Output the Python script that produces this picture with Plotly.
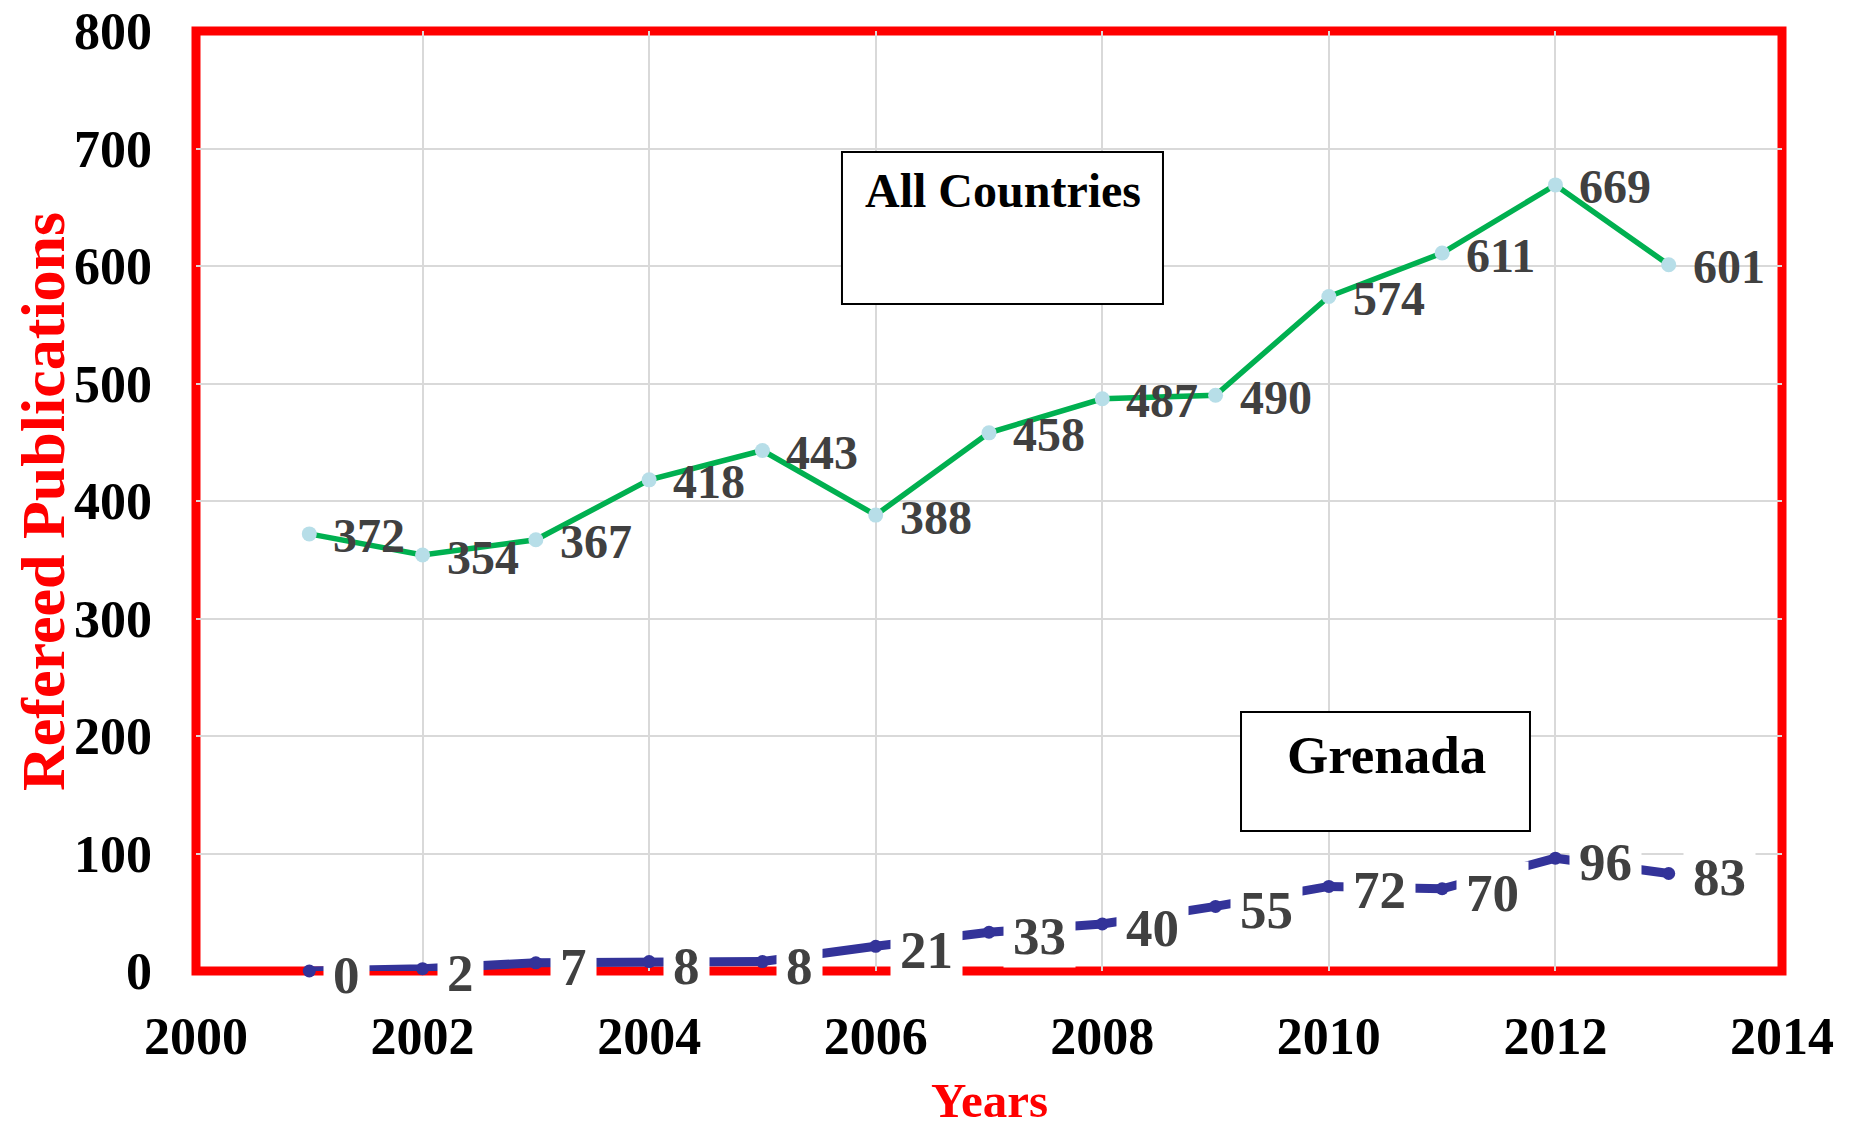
import plotly.graph_objects as go

years = [2001, 2002, 2003, 2004, 2005, 2006, 2007, 2008, 2009, 2010, 2011, 2012, 2013]
all_countries = [372, 354, 367, 418, 443, 388, 458, 487, 490, 574, 611, 669, 601]
grenada = [0, 2, 7, 8, 8, 21, 33, 40, 55, 72, 70, 96, 83]

x_title = "Years"
y_title = "Refereed Publications"
box_all = "All Countries"
box_gre = "Grenada"

SERIF = "Liberation Serif"
LABEL_COLOR = "#404040"

fig = go.Figure()

fig.add_trace(go.Scatter(
    x=years, y=all_countries, mode="lines+markers",
    line=dict(color="#00B050", width=5.5),
    marker=dict(color="#B7DEE8", size=15),
    cliponaxis=False, hoverinfo="skip", name=box_all,
))
fig.add_trace(go.Scatter(
    x=years, y=grenada, mode="lines+markers",
    line=dict(color="#333399", width=9),
    marker=dict(color="#333399", size=13),
    cliponaxis=False, hoverinfo="skip", name=box_gre,
))

annotations = []
for xv, v in zip(years, all_countries):
    annotations.append(dict(
        x=xv, y=v, xref="x", yref="y", text=str(v), showarrow=False,
        xanchor="left", yanchor="middle", xshift=22, yshift=-2,
        font=dict(family=SERIF, size=48, color=LABEL_COLOR, weight="bold"),
    ))
for xv, v in zip(years, grenada):
    n = len(str(v))
    annotations.append(dict(
        x=xv, y=v, xref="x", yref="y", text=str(v), showarrow=False,
        xanchor="left", yanchor="middle", xshift=14, yshift=-4,
        bgcolor="white", borderpad=2, width=26.5 * n + 14,
        font=dict(family=SERIF, size=53, color=LABEL_COLOR, weight="bold"),
    ))

# box titles
annotations.append(dict(
    x=0.5088, y=0.8298, xref="paper", yref="paper", text=box_all, showarrow=False,
    xanchor="center", yanchor="middle",
    font=dict(family=SERIF, size=48, color="black", weight="bold"),
))
annotations.append(dict(
    x=0.7509, y=0.2298, xref="paper", yref="paper", text=box_gre, showarrow=False,
    xanchor="center", yanchor="middle",
    font=dict(family=SERIF, size=53, color="black", weight="bold"),
))
# axis titles
annotations.append(dict(
    x=-0.0965, y=0.5, xref="paper", yref="paper", text=y_title, showarrow=False,
    textangle=-90, xanchor="center", yanchor="middle",
    font=dict(family=SERIF, size=62, color="red", weight="bold"),
))
annotations.append(dict(
    x=0.5, y=-0.1375, xref="paper", yref="paper", text=x_title, showarrow=False,
    xanchor="center", yanchor="middle",
    font=dict(family=SERIF, size=49, color="red", weight="bold"),
))

shapes = [
    dict(type="rect", xref="paper", yref="paper", x0=0, x1=1, y0=0, y1=1,
         line=dict(color="red", width=9), layer="between"),
    dict(type="rect", xref="paper", yref="paper", x0=0.4073, x1=0.6097, y0=0.7096, y1=0.8713,
         line=dict(color="black", width=2), fillcolor="white", layer="above"),
    dict(type="rect", xref="paper", yref="paper", x0=0.6589, x1=0.8411, y0=0.1489, y1=0.2755,
         line=dict(color="black", width=2), fillcolor="white", layer="above"),
]

tickfont = dict(family=SERIF, size=52, color="black", weight="bold")

fig.update_layout(
    width=1841, height=1117,
    margin=dict(l=188, r=67, t=23, b=154, autoexpand=False),
    plot_bgcolor="white", paper_bgcolor="white",
    showlegend=False,
    annotations=annotations,
    shapes=shapes,
    xaxis=dict(range=[2000, 2014], tick0=2000, dtick=2, showgrid=True,
               gridcolor="#D9D9D9", gridwidth=1.5, zeroline=False, showline=False,
               tickfont=tickfont, ticklabelstandoff=30, automargin=False,
               ticklabeloverflow="allow"),
    yaxis=dict(range=[0, 800], tick0=0, dtick=100, showgrid=True,
               gridcolor="#D9D9D9", gridwidth=1.5, zeroline=False, showline=False,
               tickfont=tickfont, ticklabelstandoff=43, automargin=False,
               ticklabeloverflow="allow"),
)

fig.write_html("out.html")
